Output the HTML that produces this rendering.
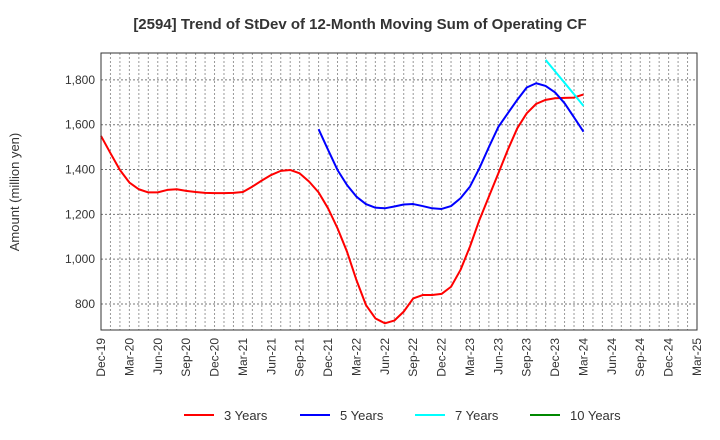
<!DOCTYPE html>
<html><head><meta charset="utf-8"><style>
body{margin:0;background:#fff;font-family:"Liberation Sans",sans-serif}
svg{display:block}
</style></head><body>
<svg width="720" height="440" xmlns="http://www.w3.org/2000/svg">
<text x="360" y="29" text-anchor="middle" font-size="15" font-weight="bold" fill="#333">[2594]  Trend of StDev of 12-Month Moving Sum of Operating CF</text>
<text transform="translate(19,192) rotate(-90)" text-anchor="middle" font-size="13" fill="#333">Amount (million yen)</text>
<g id="grid"></g>
<g id="ticks"></g>
<g id="series"></g>
<rect x="101" y="53" width="596" height="277" fill="none" stroke="#333" stroke-width="1"/>
<g id="legend"></g>
</svg>
<script>
const xLabels=["Dec-19","Mar-20","Jun-20","Sep-20","Dec-20","Mar-21","Jun-21","Sep-21","Dec-21","Mar-22","Jun-22","Sep-22","Dec-22","Mar-23","Jun-23","Sep-23","Dec-23","Mar-24","Jun-24","Sep-24","Dec-24","Mar-25"];
const yTicks=[800,1000,1200,1400,1600,1800];
const yTickLabels=["800","1,000","1,200","1,400","1,600","1,800"];
const series3Start=0;
const series3=[1550,1473,1398,1342,1312,1298,1298,1309,1312,1305,1300,1296,1295,1295,1296,1300,1324,1351,1376,1394,1398,1383,1346,1298,1227,1138,1034,907,796,736,714,726,766,825,840,840,845,877,952,1056,1175,1279,1383,1488,1584,1651,1693,1711,1718,1720,1721,1735];
const series5Start=23;
const series5=[1580,1488,1398,1331,1279,1246,1230,1227,1235,1244,1246,1237,1227,1224,1237,1272,1324,1406,1500,1590,1651,1711,1766,1785,1773,1744,1696,1633,1569];
const series7Start=47;
const series7=[1889,1838,1787,1736,1684];
const series10Start=0;
const series10=[];
const ns="http://www.w3.org/2000/svg";
const L=101,R=697,T=53,B=330,months=63;
const yMin=684,yMax=1920;
const xs=m=>L+(R-L)*m/months;
const ys=v=>B-(v-yMin)/(yMax-yMin)*(B-T);
function mk(t,a,p){const e=document.createElementNS(ns,t);for(const k in a)e.setAttribute(k,a[k]);p.appendChild(e);return e;}
const grid=document.getElementById('grid');
for(let m=1;m<months;m++){const l=mk('line',{x1:xs(m),x2:xs(m),y1:T,y2:B,stroke:'#999','stroke-dasharray':'2,2','stroke-width':1},grid);

}
const ticks=document.getElementById('ticks');
yTicks.forEach((v,i)=>{const l=mk('line',{x1:L,x2:R,y1:ys(v),y2:ys(v),stroke:'#777','stroke-dasharray':'2,2','stroke-width':1},grid);


const t=mk('text',{x:L-6,y:ys(v)+4,'text-anchor':'end','font-size':12,fill:'#333'},ticks);t.textContent=yTickLabels[i];

});
xLabels.forEach((s,i)=>{const x=xs(i*3);const t=mk('text',{transform:`translate(${x+4},338) rotate(-90)`,'text-anchor':'end','font-size':12,fill:'#333'},ticks);t.textContent=s;

});
const sg=document.getElementById('series');
function draw(arr,start,color,name){if(!arr.length)return;const p=mk('polyline',{points:arr.map((v,i)=>xs(start+i)+','+ys(v)).join(' '),fill:'none',stroke:color,'stroke-width':2,'stroke-linejoin':'round'},sg);

}
draw(series3,series3Start,'#f00','series-3-years');
draw(series5,series5Start,'#00f','series-5-years');
draw(series7,series7Start,'#0ff','series-7-years');
draw(series10,series10Start,'#080','series-10-years');
const lg=document.getElementById('legend');
const items=[["3 Years","#f00",184],["5 Years","#00f",300],["7 Years","#0ff",415],["10 Years","#080",530]];
items.forEach(([n,c,x])=>{const g=mk('g',{},lg);


mk('line',{x1:x,x2:x+30,y1:415,y2:415,stroke:c,'stroke-width':2},g);
const t=mk('text',{x:x+40,y:420,'font-size':13,fill:'#333'},g);t.textContent=n;});
</script>
</body></html>
